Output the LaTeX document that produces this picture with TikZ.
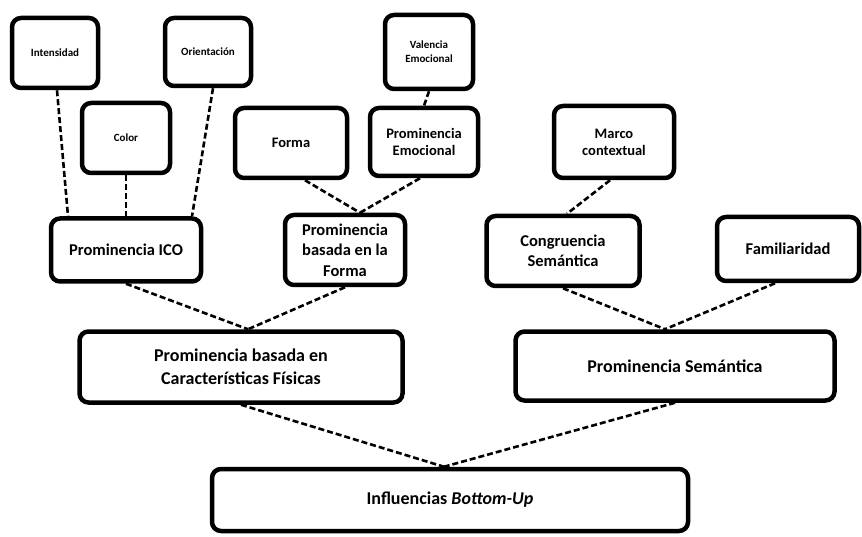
\documentclass[tikz,border=0pt]{standalone}
\usepackage{fontspec}
\setmainfont{Carlito}
\usetikzlibrary{positioning,calc}
\tikzset{
  box/.style={
    draw, line width=4.5pt, rounded corners=9pt,
    align=center, font=\bfseries, inner sep=2pt
  },
  tinybox/.style={box, font=\fontsize{11}{14}\selectfont\bfseries},
  midbox/.style={box, font=\fontsize{14.5}{17}\selectfont\bfseries},
  bigbox/.style={box, font=\fontsize{16.5}{20.5}\selectfont\bfseries},
  hugebox/.style={box, font=\fontsize{18}{23}\selectfont\bfseries},
  link/.style={line width=2.6pt, dash pattern=on 6pt off 3pt}
}
\begin{document}
\begin{tikzpicture}[x=1pt, y=-1pt]
  \useasboundingbox (0,0) rectangle (862,537);

  % top row
  \node[tinybox, minimum width=86pt, minimum height=70pt] (intens) at (55,53) {Intensidad};
  \node[tinybox, minimum width=86pt, minimum height=68pt] (orient) at (208,52) {Orientación};
  \node[tinybox, minimum width=88pt, minimum height=70pt] (color) at (126,138) {Color};
  \node[tinybox, minimum width=88pt, minimum height=74pt] (valen) at (429,52) {Valencia\\Emocional};

  \node[midbox, minimum width=112pt, minimum height=70pt] (forma) at (291,143) {Forma};
  \node[midbox, minimum width=108pt, minimum height=68pt] (pemo) at (424,142) {Prominencia\\Emocional};
  \node[midbox, minimum width=120pt, minimum height=72pt] (marco) at (614,142) {Marco\\contextual};

  % second level
  \node[bigbox, minimum width=150pt, minimum height=63pt] (ico) at (126,250) {Prominencia ICO};
  \node[bigbox, minimum width=120pt, minimum height=70pt] (pforma) at (345,250) {Prominencia\\basada en la\\Forma};
  \node[bigbox, minimum width=153pt, minimum height=70pt] (congr) at (563,251) {Congruencia\\Semántica};
  \node[bigbox, minimum width=142pt, minimum height=64pt] (famil) at (788,249) {Familiaridad};

  % third level
  \node[hugebox, minimum width=323pt, minimum height=71pt] (pfis) at (241,367) {Prominencia basada en\\Características Físicas};
  \node[hugebox, minimum width=319pt, minimum height=69pt] (psem) at (675,366) {Prominencia Semántica};

  \node[hugebox, minimum width=476pt, minimum height=62pt] (infl) at (450,500) {Influencias \textit{Bottom-Up}};

  % dashed links
  \draw[link] ([xshift=2pt]intens.south) -- ([xshift=-58pt]ico.north);
  \draw[link] (color.south) -- (ico.north);
  \draw[link] ([xshift=5pt]orient.south) -- ([xshift=66pt]ico.north);
  \draw[link] (valen.south) -- (pemo.north);
  \draw[link] ([xshift=14pt]forma.south) -- ([xshift=15pt]pforma.north);
  \draw[link] ([xshift=-4pt]pemo.south) -- ([xshift=15pt]pforma.north);
  \draw[link] ([xshift=-4pt]marco.south) -- ([xshift=4pt]congr.north);
  \draw[link] (ico.south) -- ([xshift=7pt]pfis.north);
  \draw[link] (pforma.south) -- ([xshift=7pt]pfis.north);
  \draw[link] (congr.south) -- ([xshift=-10pt]psem.north);
  \draw[link] ([xshift=-13pt]famil.south) -- ([xshift=-10pt]psem.north);
  \draw[link] (pfis.south) -- ([xshift=-6pt]infl.north);
  \draw[link] (psem.south) -- ([xshift=-6pt]infl.north);
\end{tikzpicture}
\end{document}
